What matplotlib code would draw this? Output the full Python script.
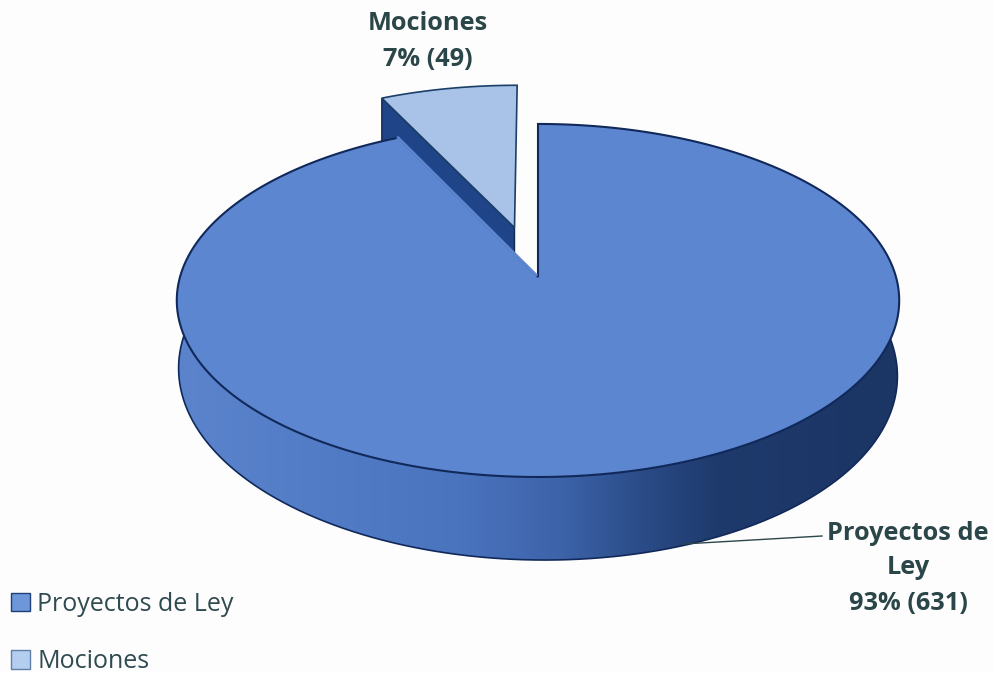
import numpy as np
import matplotlib
matplotlib.use('Agg')
import matplotlib.pyplot as plt
from matplotlib.colors import LinearSegmentedColormap
from matplotlib.patches import Polygon, Patch

categories = ['Proyectos de Ley', 'Mociones']
values = [631, 49]
percents = ['93%', '7%']

plt.rcParams['font.family'] = ['Open Sans', 'DejaVu Sans']

TEXT = '#2b4648'
EDGE = '#10295a'
TOP = '#5d86d0'

# pie projection, in pixels
CX, CY = 538, 277
A, B, P = 358, 173.4, 0.133


def project(u, v):
    w = 1 + P * v
    return CX + A * u / w, CY - B * v / w


def depth(u, v):
    return 70 - 13 * v + 4 * u


sweep = values[0] / sum(values) * 360
theta = np.radians(np.linspace(0, sweep, 300))
u_main, v_main = np.sin(theta), np.cos(theta)

# exploded slice
mid = np.radians(sweep + (360 - sweep) / 2)
off_u, off_v = 0.304 * np.sin(mid), 0.304 * np.cos(mid)
theta2 = np.radians(np.linspace(sweep, 360, 60))
u_sl, v_sl = np.sin(theta2) + off_u, np.cos(theta2) + off_v

fig = plt.figure(figsize=(9.93, 6.73), dpi=100, facecolor='#fdfdfd')
ax = fig.add_axes([0, 0, 1, 1])

# side wall of the big slice with a left to right shading
wall_t = np.radians(np.linspace(62, 298, 300))
wu, wv = np.sin(wall_t), np.cos(wall_t)
wx, wy = project(wu, wv)
bx = CX + (wx - CX) * 0.995
by = wy + depth(wu, wv)
wall_xy = np.vstack([np.column_stack([wx, wy]), np.column_stack([bx, by])[::-1]])
wall = Polygon(wall_xy, closed=True, fc='none', ec='none')
ax.add_patch(wall)
cmap = LinearSegmentedColormap.from_list('side', [(0, '#5b84cd'), (0.39, '#4b74bf'), (0.53, '#3d63a9'),
                                                  (0.64, '#2b4c88'), (0.75, '#1e3a6c'), (1, '#1b3564')])
img = ax.imshow(np.linspace(0, 1, 256)[None, :], cmap=cmap, extent=[178, 900, 673, 0], aspect='auto', zorder=1)
img.set_clip_path(wall)
ax.plot(bx, by, color=EDGE, lw=1.2, zorder=2)
ax.set_xlim(0, 993)
ax.set_ylim(673, 0)
ax.axis('off')

# top of the big slice
mx, my = project(u_main, v_main)
main_xy = np.column_stack([mx, my])
ax.add_patch(Polygon(np.vstack([[CX, CY], main_xy]), closed=True, fc=TOP, ec=EDGE, lw=1.5, zorder=3))

# exploded slice: inner face then top
sx, sy = project(u_sl, v_sl)
ax0, ay0 = project(off_u, off_v)
th = 31
face = [[sx[0], sy[0]], [ax0, ay0], [ax0, ay0 + th], [sx[0], sy[0] + 2 * th]]
ax.add_patch(Polygon(face, closed=True, fc='#1f4488', ec='#14294f', lw=1, zorder=2.5))
ax.add_patch(Polygon(np.vstack([[ax0, ay0], np.column_stack([sx, sy])]), closed=True,
                     fc='#a8c2e8', ec='#1c3f68', lw=1.2, zorder=4))

# cover the outline where the slice cut meets the inner face
ax.plot([CX - 2, mx[-1]], [CY - 2, my[-1]], color=TOP, lw=2, zorder=3.5)

# labels
bold = dict(ha='center', va='center', fontsize=18.3, fontweight='bold', color=TEXT)
ax.text(428, 23, categories[1], **bold)
ax.text(428, 59, f'{percents[1]} ({values[1]})', **bold)
ax.text(908, 533, 'Proyectos de', **bold)
ax.text(908, 568, 'Ley', **bold)
ax.text(908, 603, f'{percents[0]} ({values[0]})', **bold)
ax.plot([822, 683], [536, 544], color=TEXT, lw=1, zorder=5)

handles = [Patch(fc='#6e97da', ec='#1f3f78', lw=1), Patch(fc='#b5cdee', ec='#5f7fa8', lw=1)]
ax.legend(handles, categories, loc='lower left', bbox_to_anchor=(0.011, -0.002), frameon=False, fontsize=18,
          labelcolor='#2f4a50', handlelength=0.76, handleheight=0.76, handletextpad=0.3, labelspacing=1.3,
          borderpad=0, borderaxespad=0)

fig.savefig('out.png', dpi=100, facecolor=fig.get_facecolor())
